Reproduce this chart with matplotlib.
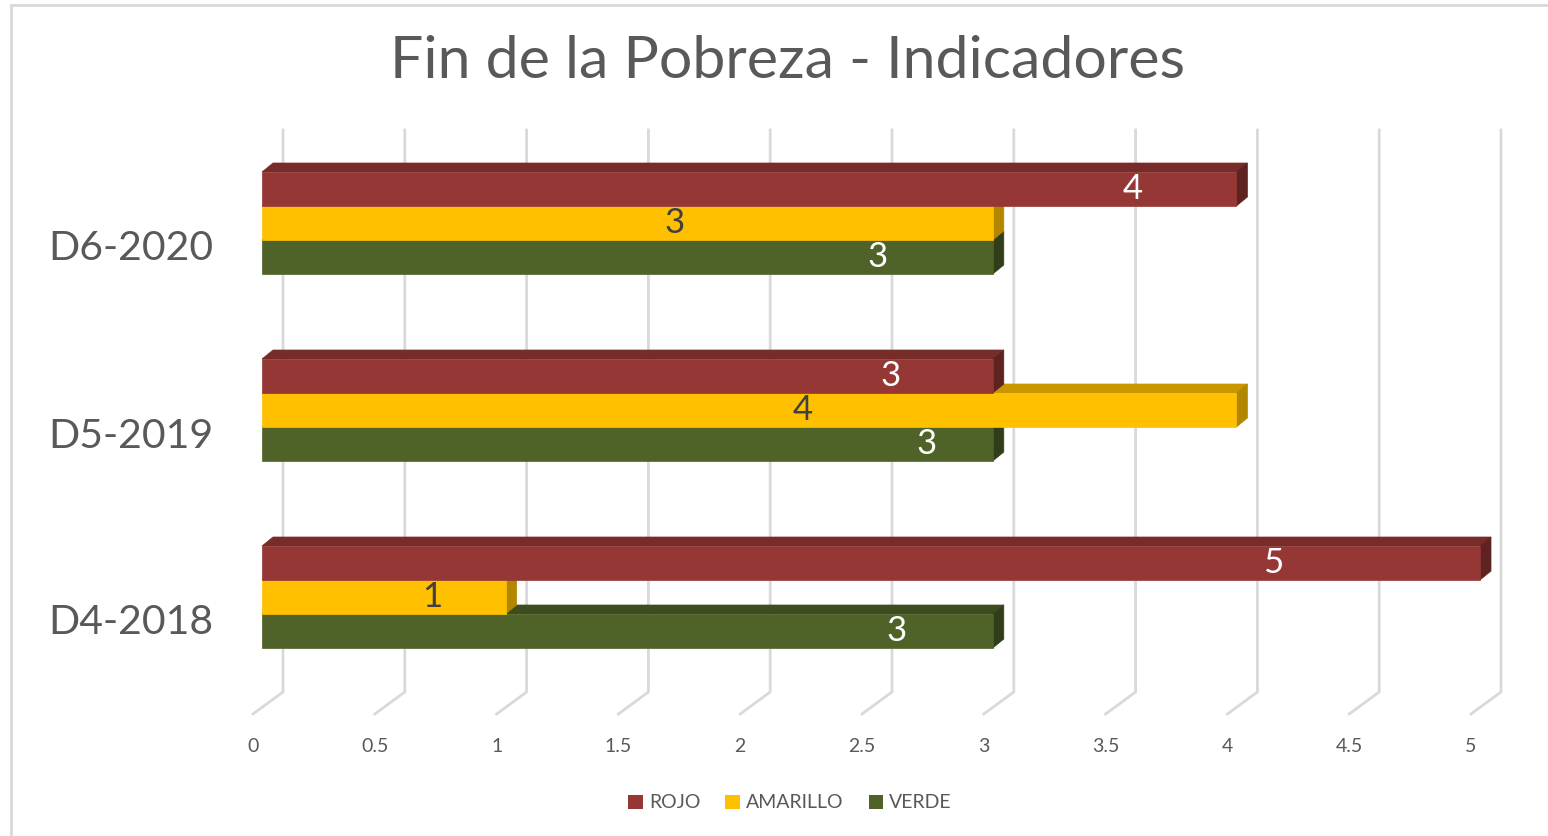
import numpy as np
import matplotlib
matplotlib.use("Agg")
import matplotlib.pyplot as plt
from matplotlib.patches import Polygon, Rectangle, Patch

# data
categorias = ['D4-2018', 'D5-2019', 'D6-2020']
rojo = [5, 3, 4]
amarillo = [1, 4, 3]
verde = [3, 3, 3]
series = ['ROJO', 'AMARILLO', 'VERDE']
ticks = [0, 0.5, 1, 1.5, 2, 2.5, 3, 3.5, 4, 4.5, 5]

# where the value label sits along each bar (fraction of its length)
pos_rojo = [0.83, 0.86, 0.894]
pos_amarillo = [0.70, 0.555, 0.564]
pos_verde = [0.868, 0.91, 0.842]

W, H = 1548, 836
fig = plt.figure(figsize=(W / 100, H / 100), dpi=100)
ax = fig.add_axes([0, 0, 1, 1])
ax.axis('off')

# scale: 1 value unit = 243.6 px, 1 category unit = 187 px
ux, uy = 243.6, 187.0
ax.set_xlim(-262 / ux, (W - 262) / ux)
ax.set_ylim((597 - H) / uy, 597 / uy)

h = 34 / uy            # bar thickness
ddx, ddy = 11 / ux, 9 / uy   # bar depth
gx_back = 21 / ux
gx_front = -9 / ux
g_top, g_bot, g_front = (597 - 130) / uy, (597 - 692) / uy, (597 - 714) / uy

grid_col = '#d9d9d9'
txt_col = '#595959'
font = 'Lato'

for t in ticks:
    ax.plot([t + gx_back, t + gx_back, t + gx_front], [g_top, g_bot, g_front],
            color=grid_col, lw=2, zorder=1, solid_joinstyle='miter')
    ax.text(t + gx_front, (597 - 746) / uy, f'{t:g}', ha='center', va='center',
            fontsize=14, color=txt_col, family=font)

colores = {
    'ROJO': ('#953735', '#772c2a', '#5e2221', 'white'),
    'AMARILLO': ('#ffc000', '#c99700', '#b38600', '#404040'),
    'VERDE': ('#4f6228', '#3e4d1f', '#313d18', 'white'),
}
vals = {'ROJO': rojo, 'AMARILLO': amarillo, 'VERDE': verde}
posl = {'ROJO': pos_rojo, 'AMARILLO': pos_amarillo, 'VERDE': pos_verde}
offs = {'ROJO': 0.5, 'AMARILLO': -0.5, 'VERDE': -1.5}

z = 2
for i, cat in enumerate(categorias):
    for s in ['VERDE', 'AMARILLO', 'ROJO']:
        v = vals[s][i]
        front, top, side, tc = colores[s]
        y0 = i + offs[s] * h
        ax.add_patch(Polygon([(0, y0 + h), (ddx, y0 + h + ddy), (v + ddx, y0 + h + ddy), (v, y0 + h)],
                             closed=True, facecolor=top, edgecolor=top, lw=0.5, zorder=z))
        ax.add_patch(Polygon([(v, y0), (v + ddx, y0 + ddy), (v + ddx, y0 + h + ddy), (v, y0 + h)],
                             closed=True, facecolor=side, edgecolor=side, lw=0.5, zorder=z))
        ax.add_patch(Rectangle((0, y0), v, h, facecolor=front, edgecolor=front, lw=0.5, zorder=z + 1))
        ax.text(v * posl[s][i], y0 + h / 2, str(v), ha='center', va='center',
                fontsize=25, color=tc, family=font, zorder=z + 2)
        z += 3
    ax.text(-49 / ux, i - 26 / uy, cat, ha='right', va='center',
            fontsize=29.5, color=txt_col, family=font)

fig.text(787 / W, 1 - 62 / H, 'Fin de la Pobreza - Indicadores', ha='center', va='center',
         fontsize=42.5, color=txt_col, family=font)

handles = [Patch(facecolor=colores[s][0], edgecolor='none', label=s) for s in series]
leg = fig.legend(handles=handles, loc='center', bbox_to_anchor=(790 / W, 1 - 803 / H),
                 ncol=3, frameon=False, handlelength=0.75, handleheight=0.75,
                 handletextpad=0.3, columnspacing=1.3, prop={'family': font, 'size': 14})
for t in leg.get_texts():
    t.set_color(txt_col)

# chart frame
fig.add_artist(Rectangle((11 / W, -0.1), 1.2, 1.1 - 5 / H, transform=fig.transFigure,
                         fill=False, edgecolor=grid_col, lw=2))

fig.savefig('out.png', dpi=100)
